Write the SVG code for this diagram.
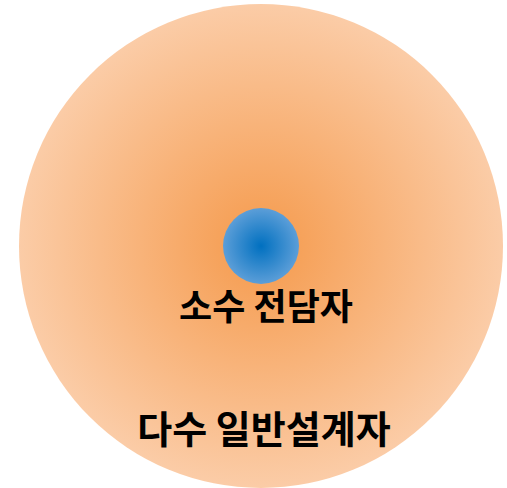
<svg xmlns="http://www.w3.org/2000/svg" width="507" height="488" viewBox="0 0 507 488">
<style>
.lbl{font-family:"Noto Sans CJK KR","Noto Sans",sans-serif;font-weight:bold;fill:#000;text-anchor:middle}
</style>
<defs>
<radialGradient id="gOuter" cx="0.5" cy="0.5" r="0.5">
<stop offset="0" stop-color="#F59A4C"/>
<stop offset="1" stop-color="#FBCCA7"/>
</radialGradient>
<radialGradient id="gInner" cx="0.5" cy="0.5" r="0.5">
<stop offset="0" stop-color="#0070C0"/>
<stop offset="1" stop-color="#5C9ED8"/>
</radialGradient>
</defs>
<g id="outer">
<circle cx="261" cy="246" r="242" fill="url(#gOuter)"/>
<text class="lbl" x="264" y="443" font-size="38">다수 일반설계자</text>
</g>
<g id="inner">
<circle cx="261" cy="246" r="38" fill="url(#gInner)"/>
<text class="lbl" x="266" y="320" font-size="36">소수 전담자</text>
</g>
<g id="connectors"/>
</svg>
